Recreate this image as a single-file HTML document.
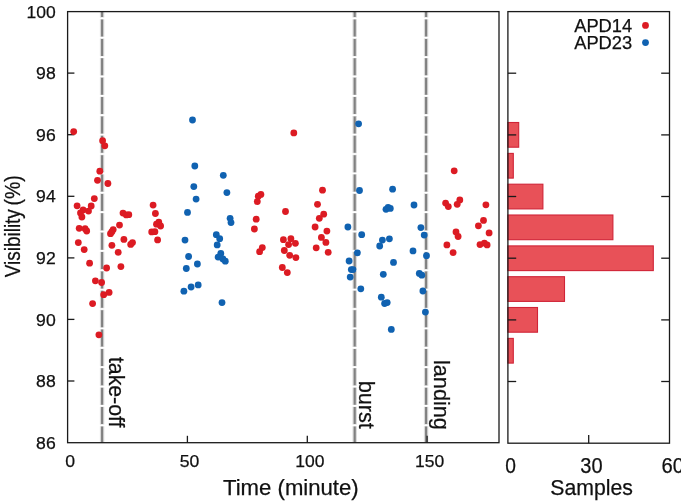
<!DOCTYPE html>
<html lang="en"><head><meta charset="utf-8"><title>Visibility vs time</title>
<style>html,body{margin:0;padding:0;background:#fff}svg{display:block}text{font-family:"Liberation Sans",Arial,Helvetica,sans-serif;fill:#111;stroke:#111;stroke-width:0.25px}</style>
</head><body>
<svg width="685" height="503" viewBox="0 0 685 503">
<rect x="0" y="0" width="685" height="503" fill="#ffffff"/>
<line x1="102.1" y1="442.6" x2="102.1" y2="11.6" stroke="#d9d9d9" stroke-width="4.4" stroke-dasharray="17.68 1.7" stroke-dashoffset="1.23"/>
<line x1="102.1" y1="442.6" x2="102.1" y2="11.6" stroke="#808080" stroke-width="2.1" stroke-dasharray="16.98 2.4" stroke-dashoffset="0.88"/>
<line x1="354.7" y1="442.6" x2="354.7" y2="11.6" stroke="#d9d9d9" stroke-width="4.4" stroke-dasharray="17.68 1.7" stroke-dashoffset="1.23"/>
<line x1="354.7" y1="442.6" x2="354.7" y2="11.6" stroke="#808080" stroke-width="2.1" stroke-dasharray="16.98 2.4" stroke-dashoffset="0.88"/>
<line x1="426.1" y1="442.6" x2="426.1" y2="11.6" stroke="#d9d9d9" stroke-width="4.4" stroke-dasharray="17.68 1.7" stroke-dashoffset="1.23"/>
<line x1="426.1" y1="442.6" x2="426.1" y2="11.6" stroke="#808080" stroke-width="2.1" stroke-dasharray="16.98 2.4" stroke-dashoffset="0.88"/>
<line x1="67.6" y1="73.1" x2="74.4" y2="73.1" stroke="#1a1a1a" stroke-width="1.3"/>
<line x1="67.6" y1="134.7" x2="74.4" y2="134.7" stroke="#1a1a1a" stroke-width="1.3"/>
<line x1="67.6" y1="196.3" x2="74.4" y2="196.3" stroke="#1a1a1a" stroke-width="1.3"/>
<line x1="67.6" y1="257.9" x2="74.4" y2="257.9" stroke="#1a1a1a" stroke-width="1.3"/>
<line x1="67.6" y1="319.4" x2="74.4" y2="319.4" stroke="#1a1a1a" stroke-width="1.3"/>
<line x1="67.6" y1="381.0" x2="74.4" y2="381.0" stroke="#1a1a1a" stroke-width="1.3"/>
<line x1="187.4" y1="442.6" x2="187.4" y2="435.8" stroke="#1a1a1a" stroke-width="1.3"/>
<line x1="307.3" y1="442.6" x2="307.3" y2="435.8" stroke="#1a1a1a" stroke-width="1.3"/>
<line x1="427.1" y1="442.6" x2="427.1" y2="435.8" stroke="#1a1a1a" stroke-width="1.3"/>
<rect x="507.9" y="122.5" width="10.8" height="24.7" fill="#e11c26" fill-opacity="0.77" stroke="#d02437" stroke-width="1.1"/>
<rect x="507.9" y="153.4" width="5.4" height="24.7" fill="#e11c26" fill-opacity="0.77" stroke="#d02437" stroke-width="1.1"/>
<rect x="507.9" y="184.2" width="35.0" height="24.7" fill="#e11c26" fill-opacity="0.77" stroke="#d02437" stroke-width="1.1"/>
<rect x="507.9" y="215.0" width="105.0" height="24.7" fill="#e11c26" fill-opacity="0.77" stroke="#d02437" stroke-width="1.1"/>
<rect x="507.9" y="245.9" width="145.4" height="24.7" fill="#e11c26" fill-opacity="0.77" stroke="#d02437" stroke-width="1.1"/>
<rect x="507.9" y="276.7" width="56.6" height="24.7" fill="#e11c26" fill-opacity="0.77" stroke="#d02437" stroke-width="1.1"/>
<rect x="507.9" y="307.5" width="29.6" height="24.7" fill="#e11c26" fill-opacity="0.77" stroke="#d02437" stroke-width="1.1"/>
<rect x="507.9" y="338.4" width="5.4" height="24.7" fill="#e11c26" fill-opacity="0.77" stroke="#d02437" stroke-width="1.1"/>
<line x1="507.9" y1="73.2" x2="516.2" y2="73.2" stroke="#1a1a1a" stroke-width="1.3"/>
<line x1="669.5" y1="73.2" x2="661.2" y2="73.2" stroke="#1a1a1a" stroke-width="1.3"/>
<line x1="507.9" y1="134.9" x2="516.2" y2="134.9" stroke="#1a1a1a" stroke-width="1.3"/>
<line x1="669.5" y1="134.9" x2="661.2" y2="134.9" stroke="#1a1a1a" stroke-width="1.3"/>
<line x1="507.9" y1="196.5" x2="516.2" y2="196.5" stroke="#1a1a1a" stroke-width="1.3"/>
<line x1="669.5" y1="196.5" x2="661.2" y2="196.5" stroke="#1a1a1a" stroke-width="1.3"/>
<line x1="507.9" y1="258.2" x2="516.2" y2="258.2" stroke="#1a1a1a" stroke-width="1.3"/>
<line x1="669.5" y1="258.2" x2="661.2" y2="258.2" stroke="#1a1a1a" stroke-width="1.3"/>
<line x1="507.9" y1="319.9" x2="516.2" y2="319.9" stroke="#1a1a1a" stroke-width="1.3"/>
<line x1="669.5" y1="319.9" x2="661.2" y2="319.9" stroke="#1a1a1a" stroke-width="1.3"/>
<line x1="507.9" y1="381.5" x2="516.2" y2="381.5" stroke="#1a1a1a" stroke-width="1.3"/>
<line x1="669.5" y1="381.5" x2="661.2" y2="381.5" stroke="#1a1a1a" stroke-width="1.3"/>
<line x1="588.7" y1="443.2" x2="588.7" y2="434.9" stroke="#1a1a1a" stroke-width="1.3"/>
<circle cx="73.7" cy="131.6" r="3.4" fill="#dc1b23"/>
<circle cx="102.6" cy="140.7" r="3.4" fill="#dc1b23"/>
<circle cx="104.8" cy="145.8" r="3.4" fill="#dc1b23"/>
<circle cx="99.8" cy="171.2" r="3.4" fill="#dc1b23"/>
<circle cx="97.5" cy="180.3" r="3.4" fill="#dc1b23"/>
<circle cx="107.9" cy="183.5" r="3.4" fill="#dc1b23"/>
<circle cx="94.3" cy="198.6" r="3.4" fill="#dc1b23"/>
<circle cx="77.1" cy="205.8" r="3.4" fill="#dc1b23"/>
<circle cx="91.2" cy="206.0" r="3.4" fill="#dc1b23"/>
<circle cx="83.1" cy="209.9" r="3.4" fill="#dc1b23"/>
<circle cx="88.5" cy="211.1" r="3.4" fill="#dc1b23"/>
<circle cx="80.5" cy="212.9" r="3.4" fill="#dc1b23"/>
<circle cx="81.9" cy="217.0" r="3.4" fill="#dc1b23"/>
<circle cx="79.2" cy="228.3" r="3.4" fill="#dc1b23"/>
<circle cx="85.1" cy="228.7" r="3.4" fill="#dc1b23"/>
<circle cx="86.7" cy="231.0" r="3.4" fill="#dc1b23"/>
<circle cx="78.3" cy="242.6" r="3.4" fill="#dc1b23"/>
<circle cx="84.2" cy="249.6" r="3.4" fill="#dc1b23"/>
<circle cx="89.6" cy="263.2" r="3.4" fill="#dc1b23"/>
<circle cx="95.4" cy="280.8" r="3.4" fill="#dc1b23"/>
<circle cx="101.6" cy="282.5" r="3.4" fill="#dc1b23"/>
<circle cx="123.0" cy="213.1" r="3.4" fill="#dc1b23"/>
<circle cx="126.3" cy="214.9" r="3.4" fill="#dc1b23"/>
<circle cx="128.8" cy="214.7" r="3.4" fill="#dc1b23"/>
<circle cx="119.5" cy="225.1" r="3.4" fill="#dc1b23"/>
<circle cx="113.2" cy="229.6" r="3.4" fill="#dc1b23"/>
<circle cx="111.9" cy="231.7" r="3.4" fill="#dc1b23"/>
<circle cx="110.5" cy="233.7" r="3.4" fill="#dc1b23"/>
<circle cx="123.9" cy="239.4" r="3.4" fill="#dc1b23"/>
<circle cx="132.5" cy="242.6" r="3.4" fill="#dc1b23"/>
<circle cx="130.7" cy="244.4" r="3.4" fill="#dc1b23"/>
<circle cx="111.9" cy="245.3" r="3.4" fill="#dc1b23"/>
<circle cx="118.2" cy="252.3" r="3.4" fill="#dc1b23"/>
<circle cx="120.9" cy="266.6" r="3.4" fill="#dc1b23"/>
<circle cx="106.6" cy="268.0" r="3.4" fill="#dc1b23"/>
<circle cx="153.1" cy="205.1" r="3.4" fill="#dc1b23"/>
<circle cx="155.4" cy="213.5" r="3.4" fill="#dc1b23"/>
<circle cx="158.8" cy="222.1" r="3.4" fill="#dc1b23"/>
<circle cx="156.5" cy="224.2" r="3.4" fill="#dc1b23"/>
<circle cx="160.6" cy="226.0" r="3.4" fill="#dc1b23"/>
<circle cx="151.7" cy="231.9" r="3.4" fill="#dc1b23"/>
<circle cx="154.9" cy="231.7" r="3.4" fill="#dc1b23"/>
<circle cx="157.6" cy="239.9" r="3.4" fill="#dc1b23"/>
<circle cx="109.1" cy="292.4" r="3.4" fill="#dc1b23"/>
<circle cx="103.7" cy="294.7" r="3.4" fill="#dc1b23"/>
<circle cx="92.6" cy="303.6" r="3.4" fill="#dc1b23"/>
<circle cx="98.9" cy="334.8" r="3.4" fill="#dc1b23"/>
<circle cx="293.8" cy="132.9" r="3.4" fill="#dc1b23"/>
<circle cx="260.9" cy="194.4" r="3.4" fill="#dc1b23"/>
<circle cx="258.3" cy="196.2" r="3.4" fill="#dc1b23"/>
<circle cx="257.3" cy="201.6" r="3.4" fill="#dc1b23"/>
<circle cx="285.5" cy="211.5" r="3.4" fill="#dc1b23"/>
<circle cx="256.2" cy="219.2" r="3.4" fill="#dc1b23"/>
<circle cx="254.4" cy="229.0" r="3.4" fill="#dc1b23"/>
<circle cx="262.3" cy="247.6" r="3.4" fill="#dc1b23"/>
<circle cx="259.6" cy="251.7" r="3.4" fill="#dc1b23"/>
<circle cx="283.4" cy="239.7" r="3.4" fill="#dc1b23"/>
<circle cx="290.9" cy="238.7" r="3.4" fill="#dc1b23"/>
<circle cx="295.4" cy="243.3" r="3.4" fill="#dc1b23"/>
<circle cx="288.6" cy="244.6" r="3.4" fill="#dc1b23"/>
<circle cx="284.3" cy="250.5" r="3.4" fill="#dc1b23"/>
<circle cx="289.7" cy="255.3" r="3.4" fill="#dc1b23"/>
<circle cx="295.9" cy="257.6" r="3.4" fill="#dc1b23"/>
<circle cx="282.3" cy="267.5" r="3.4" fill="#dc1b23"/>
<circle cx="287.3" cy="272.6" r="3.4" fill="#dc1b23"/>
<circle cx="322.5" cy="190.2" r="3.4" fill="#dc1b23"/>
<circle cx="317.5" cy="204.3" r="3.4" fill="#dc1b23"/>
<circle cx="323.7" cy="214.2" r="3.4" fill="#dc1b23"/>
<circle cx="319.3" cy="218.3" r="3.4" fill="#dc1b23"/>
<circle cx="315.1" cy="227.0" r="3.4" fill="#dc1b23"/>
<circle cx="326.9" cy="231.1" r="3.4" fill="#dc1b23"/>
<circle cx="321.4" cy="237.4" r="3.4" fill="#dc1b23"/>
<circle cx="325.9" cy="242.4" r="3.4" fill="#dc1b23"/>
<circle cx="316.2" cy="247.8" r="3.4" fill="#dc1b23"/>
<circle cx="328.2" cy="252.3" r="3.4" fill="#dc1b23"/>
<circle cx="454.2" cy="170.8" r="3.4" fill="#dc1b23"/>
<circle cx="445.6" cy="203.1" r="3.4" fill="#dc1b23"/>
<circle cx="448.3" cy="206.6" r="3.4" fill="#dc1b23"/>
<circle cx="459.8" cy="200.0" r="3.4" fill="#dc1b23"/>
<circle cx="457.2" cy="204.3" r="3.4" fill="#dc1b23"/>
<circle cx="485.9" cy="204.8" r="3.4" fill="#dc1b23"/>
<circle cx="483.5" cy="220.4" r="3.4" fill="#dc1b23"/>
<circle cx="478.4" cy="225.8" r="3.4" fill="#dc1b23"/>
<circle cx="489.1" cy="232.9" r="3.4" fill="#dc1b23"/>
<circle cx="456.0" cy="232.0" r="3.4" fill="#dc1b23"/>
<circle cx="458.1" cy="236.5" r="3.4" fill="#dc1b23"/>
<circle cx="446.9" cy="244.9" r="3.4" fill="#dc1b23"/>
<circle cx="453.1" cy="252.6" r="3.4" fill="#dc1b23"/>
<circle cx="480.0" cy="244.6" r="3.4" fill="#dc1b23"/>
<circle cx="484.4" cy="243.1" r="3.4" fill="#dc1b23"/>
<circle cx="487.1" cy="244.9" r="3.4" fill="#dc1b23"/>
<circle cx="192.5" cy="120.0" r="3.4" fill="#1062b1"/>
<circle cx="194.8" cy="166.0" r="3.4" fill="#1062b1"/>
<circle cx="223.3" cy="175.3" r="3.4" fill="#1062b1"/>
<circle cx="193.8" cy="186.6" r="3.4" fill="#1062b1"/>
<circle cx="226.9" cy="192.6" r="3.4" fill="#1062b1"/>
<circle cx="196.1" cy="199.1" r="3.4" fill="#1062b1"/>
<circle cx="187.5" cy="212.4" r="3.4" fill="#1062b1"/>
<circle cx="230.1" cy="218.3" r="3.4" fill="#1062b1"/>
<circle cx="231.0" cy="222.6" r="3.4" fill="#1062b1"/>
<circle cx="185.0" cy="240.1" r="3.4" fill="#1062b1"/>
<circle cx="216.3" cy="234.7" r="3.4" fill="#1062b1"/>
<circle cx="219.7" cy="238.7" r="3.4" fill="#1062b1"/>
<circle cx="217.2" cy="244.9" r="3.4" fill="#1062b1"/>
<circle cx="220.8" cy="253.5" r="3.4" fill="#1062b1"/>
<circle cx="218.1" cy="257.1" r="3.4" fill="#1062b1"/>
<circle cx="222.9" cy="258.9" r="3.4" fill="#1062b1"/>
<circle cx="225.3" cy="261.2" r="3.4" fill="#1062b1"/>
<circle cx="188.6" cy="256.5" r="3.4" fill="#1062b1"/>
<circle cx="197.4" cy="264.0" r="3.4" fill="#1062b1"/>
<circle cx="186.3" cy="268.5" r="3.4" fill="#1062b1"/>
<circle cx="198.2" cy="284.9" r="3.4" fill="#1062b1"/>
<circle cx="191.1" cy="287.0" r="3.4" fill="#1062b1"/>
<circle cx="183.9" cy="291.2" r="3.4" fill="#1062b1"/>
<circle cx="222.0" cy="302.6" r="3.4" fill="#1062b1"/>
<circle cx="358.6" cy="123.8" r="3.4" fill="#1062b1"/>
<circle cx="359.5" cy="190.5" r="3.4" fill="#1062b1"/>
<circle cx="392.6" cy="189.2" r="3.4" fill="#1062b1"/>
<circle cx="347.9" cy="227.0" r="3.4" fill="#1062b1"/>
<circle cx="361.7" cy="234.7" r="3.4" fill="#1062b1"/>
<circle cx="357.4" cy="252.8" r="3.4" fill="#1062b1"/>
<circle cx="349.1" cy="261.0" r="3.4" fill="#1062b1"/>
<circle cx="351.3" cy="269.6" r="3.4" fill="#1062b1"/>
<circle cx="353.0" cy="269.6" r="3.4" fill="#1062b1"/>
<circle cx="350.2" cy="277.1" r="3.4" fill="#1062b1"/>
<circle cx="386.0" cy="209.3" r="3.4" fill="#1062b1"/>
<circle cx="388.1" cy="207.4" r="3.4" fill="#1062b1"/>
<circle cx="390.3" cy="208.4" r="3.4" fill="#1062b1"/>
<circle cx="414.0" cy="205.0" r="3.4" fill="#1062b1"/>
<circle cx="382.4" cy="240.1" r="3.4" fill="#1062b1"/>
<circle cx="389.4" cy="238.8" r="3.4" fill="#1062b1"/>
<circle cx="379.7" cy="246.0" r="3.4" fill="#1062b1"/>
<circle cx="413.0" cy="250.9" r="3.4" fill="#1062b1"/>
<circle cx="393.5" cy="262.4" r="3.4" fill="#1062b1"/>
<circle cx="383.3" cy="274.3" r="3.4" fill="#1062b1"/>
<circle cx="360.8" cy="288.8" r="3.4" fill="#1062b1"/>
<circle cx="381.3" cy="297.2" r="3.4" fill="#1062b1"/>
<circle cx="384.6" cy="303.5" r="3.4" fill="#1062b1"/>
<circle cx="387.2" cy="302.6" r="3.4" fill="#1062b1"/>
<circle cx="391.3" cy="329.4" r="3.4" fill="#1062b1"/>
<circle cx="420.9" cy="227.6" r="3.4" fill="#1062b1"/>
<circle cx="424.2" cy="235.1" r="3.4" fill="#1062b1"/>
<circle cx="426.5" cy="255.7" r="3.4" fill="#1062b1"/>
<circle cx="419.3" cy="273.4" r="3.4" fill="#1062b1"/>
<circle cx="421.8" cy="275.2" r="3.4" fill="#1062b1"/>
<circle cx="422.9" cy="291.0" r="3.4" fill="#1062b1"/>
<circle cx="425.4" cy="312.1" r="3.4" fill="#1062b1"/>
<rect x="67.6" y="11.6" width="431.4" height="431.1" fill="none" stroke="#1a1a1a" stroke-width="1.3"/>
<rect x="507.9" y="11.6" width="161.6" height="431.6" fill="none" stroke="#1a1a1a" stroke-width="1.3"/>
<text x="26.5" y="17.6" font-size="17.3" text-anchor="start" textLength="29.2" lengthAdjust="spacingAndGlyphs">100</text>
<text x="36.1" y="79.2" font-size="17.3" text-anchor="start" textLength="19.6" lengthAdjust="spacingAndGlyphs">98</text>
<text x="36.1" y="140.8" font-size="17.3" text-anchor="start" textLength="19.6" lengthAdjust="spacingAndGlyphs">96</text>
<text x="36.1" y="202.4" font-size="17.3" text-anchor="start" textLength="19.6" lengthAdjust="spacingAndGlyphs">94</text>
<text x="36.1" y="264.0" font-size="17.3" text-anchor="start" textLength="19.6" lengthAdjust="spacingAndGlyphs">92</text>
<text x="36.1" y="325.5" font-size="17.3" text-anchor="start" textLength="19.6" lengthAdjust="spacingAndGlyphs">90</text>
<text x="36.1" y="387.1" font-size="17.3" text-anchor="start" textLength="19.6" lengthAdjust="spacingAndGlyphs">88</text>
<text x="36.1" y="448.7" font-size="17.3" text-anchor="start" textLength="19.6" lengthAdjust="spacingAndGlyphs">86</text>
<text x="65.3" y="466.7" font-size="17.3" text-anchor="start" textLength="9.8" lengthAdjust="spacingAndGlyphs">0</text>
<text x="179.7" y="466.7" font-size="17.3" text-anchor="start" textLength="19.6" lengthAdjust="spacingAndGlyphs">50</text>
<text x="295.3" y="466.7" font-size="17.3" text-anchor="start" textLength="29.2" lengthAdjust="spacingAndGlyphs">100</text>
<text x="415.1" y="466.7" font-size="17.3" text-anchor="start" textLength="29.2" lengthAdjust="spacingAndGlyphs">150</text>
<text x="505.3" y="473.1" font-size="21.9" text-anchor="start" textLength="10.7" lengthAdjust="spacingAndGlyphs">0</text>
<text x="580.3" y="473.1" font-size="21.9" text-anchor="start" textLength="22.3" lengthAdjust="spacingAndGlyphs">30</text>
<clipPath id="rc"><rect x="0" y="0" width="681" height="503"/></clipPath>
<text x="661.4" y="473.1" font-size="21.9" text-anchor="start" textLength="22.5" lengthAdjust="spacingAndGlyphs" clip-path="url(#rc)">60</text>
<text x="223.0" y="494.6" font-size="21.4" text-anchor="start" textLength="135.7" lengthAdjust="spacingAndGlyphs">Time (minute)</text>
<text x="550.3" y="494.5" font-size="22.1" text-anchor="start" textLength="82.6" lengthAdjust="spacingAndGlyphs">Samples</text>
<text transform="translate(19.7,277.2) rotate(-90)" font-size="21.4"><tspan textLength="68.0" lengthAdjust="spacingAndGlyphs">Visibility</tspan> <tspan x="71.8" textLength="30.2" lengthAdjust="spacingAndGlyphs">(%)</tspan></text>
<text transform="translate(109.0,427.5) scale(1.020,1) rotate(90)" font-size="21.3" text-anchor="end">take-off</text>
<text transform="translate(358.6,428.9) scale(1.020,1) rotate(90)" font-size="21.7" text-anchor="end">burst</text>
<text transform="translate(433.9,429.9) scale(1.020,1) rotate(90)" font-size="21.7" text-anchor="end">landing</text>
<text x="574.2" y="32.3" font-size="17.6" text-anchor="start" textLength="58.0" lengthAdjust="spacingAndGlyphs">APD14</text>
<text x="574.2" y="49.2" font-size="17.6" text-anchor="start" textLength="58.0" lengthAdjust="spacingAndGlyphs">APD23</text>
<circle cx="645.5" cy="25.4" r="3.4" fill="#dc1b23"/>
<circle cx="645.5" cy="42.6" r="3.4" fill="#1062b1"/>
</svg>
</body></html>
